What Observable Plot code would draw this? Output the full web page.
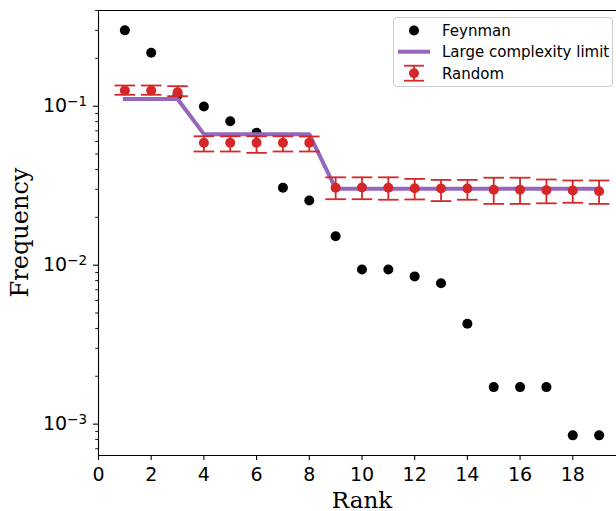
<!DOCTYPE html>
<html><head><meta charset="utf-8">
<script src="https://cdn.jsdelivr.net/npm/d3@7"></script>
<script src="https://cdn.jsdelivr.net/npm/@observablehq/plot@0.6"></script>
<style>html,body{margin:0;padding:0;background:#fff;overflow:hidden}</style>
</head><body><div id="chart"></div>
<script>
const ranks = [1,2,3,4,5,6,7,8,9,10,11,12,13,14,15,16,17,18,19];
const feynman = [0.300,0.217,0.117,0.0995,0.0805,0.068,0.0307,0.0255,0.0152,0.0094,0.0094,0.0085,0.0077,0.00428,0.00171,0.00171,0.00171,0.00085,0.00085];
const limitValues = [0.1111,0.1111,0.1111,0.0667,0.0667,0.0667,0.0667,0.0667,0.0303,0.0303,0.0303,0.0303,0.0303,0.0303,0.0303,0.0303,0.0303,0.0303,0.0303];
const randomMean = [0.1256,0.1256,0.1225,0.0589,0.0589,0.0589,0.0589,0.0589,0.0307,0.0308,0.0307,0.0305,0.0304,0.0304,0.0298,0.0298,0.0296,0.0295,0.0292];
const randomHigh = [0.135,0.135,0.1336,0.0647,0.0647,0.0647,0.0647,0.0645,0.0357,0.0357,0.0357,0.0349,0.0344,0.0344,0.0355,0.0355,0.0346,0.0341,0.0341];
const randomLow = [0.118,0.118,0.1156,0.0519,0.0519,0.0509,0.0519,0.0519,0.0260,0.0260,0.0258,0.0259,0.0253,0.0258,0.0243,0.0243,0.0245,0.0247,0.0243];
const xTicks = [0,2,4,6,8,10,12,14,16,18];
const yMajor = [0.001,0.01,0.1];
const yMinor = [0.0007,0.0008,0.0009,0.002,0.003,0.004,0.005,0.006,0.007,0.008,0.009,0.02,0.03,0.04,0.05,0.06,0.07,0.08,0.09,0.2,0.3,0.4];
const legendLabels = ["Feynman","Large complexity limit","Random"];

const RED = "#d62728", PURPLE = "#9467bd";
const data = ranks.map((r,i)=>({rank:r, feynman:feynman[i], limit:limitValues[i], mean:randomMean[i], lo:randomLow[i], hi:randomHigh[i]}));
const capSymbol = {draw(ctx,size){const w=Math.sqrt(size/Math.PI); ctx.moveTo(-w,0); ctx.lineTo(w,0);}};
const yLo = 0.000635, yHi = 0.40;

const plot = Plot.plot({
  width:616, height:511, marginTop:10, marginLeft:98, marginRight:0, marginBottom:56,
  style:{fontFamily:"'DejaVu Sans', sans-serif", fontSize:"19px", color:"#000", background:"#fff", overflow:"visible"},
  x:{domain:[0,19.66]},
  y:{type:"log", domain:[yLo,yHi]},
  marks:[
    Plot.axisX({ticks:xTicks, tickSize:5, tickPadding:7, label:null, tickFormat:d=>String(d), strokeWidth:1.1}),
    Plot.axisY({ticks:yMajor, tickSize:5, tickPadding:6.5, label:null, tickFormat:d=>"10^"+Math.round(Math.log10(d)), strokeWidth:1.1}),
    Plot.axisY({ticks:yMinor, tickSize:2.8, label:null, tickFormat:()=>"", strokeWidth:0.9}),
    Plot.ruleX([0], {stroke:"#000", strokeWidth:1.1}),
    Plot.ruleY([yLo], {stroke:"#000", strokeWidth:1.1}),
    Plot.ruleY([yHi], {stroke:"#000", strokeWidth:1.1}),
    Plot.dot(data, {x:"rank", y:"feynman", r:5, fill:"#000", stroke:null}),
    Plot.line(data, {x:"rank", y:"limit", stroke:PURPLE, strokeWidth:4, strokeLinecap:"square", strokeLinejoin:"miter"}),
    Plot.ruleX(data, {x:"rank", y1:"lo", y2:"hi", stroke:RED, strokeWidth:1.8}),
    Plot.dot(data, {x:"rank", y:"lo", symbol:capSymbol, r:10.3, stroke:RED, strokeWidth:1.8, fill:null}),
    Plot.dot(data, {x:"rank", y:"hi", symbol:capSymbol, r:10.3, stroke:RED, strokeWidth:1.8, fill:null}),
    Plot.dot(data, {x:"rank", y:"mean", r:5, fill:RED, stroke:null}),
    Plot.text(["Rank"], {x:10, frameAnchor:"bottom", lineAnchor:"top", dy:35.7, fontFamily:"'DejaVu Serif', serif", fontSize:23, fill:"#000"})
  ]
});
document.getElementById("chart").appendChild(plot);
const svg = d3.select(plot);

// superscript tick labels
svg.selectAll("text").each(function(){
  const t = this.textContent;
  const m = /^10\^(-?\d+)$/.exec(t);
  if (m) {
    const el = d3.select(this);
    el.text(null);
    el.append("tspan").text("10");
    el.append("tspan").attr("dy","-0.45em").attr("font-size","13.5px").text(m[1].replace("-","\u2212"));
  }
});

// y label
svg.append("text").attr("transform","translate(28,232.5) rotate(-90)")
  .attr("text-anchor","middle").attr("font-family","'DejaVu Serif', serif").attr("font-size",24).attr("fill","#000")
  .text("Frequency");

// legend
const lg = svg.append("g").attr("font-family","'DejaVu Sans', sans-serif").attr("font-size",15).attr("text-anchor","start");
lg.append("rect").attr("x",393.5).attr("y",17.5).attr("width",219).attr("height",69).attr("rx",3)
  .attr("fill","#fff").attr("fill-opacity",0.8).attr("stroke","#ccc").attr("stroke-width",1);
lg.append("circle").attr("cx",414).attr("cy",30.5).attr("r",5).attr("fill","#000");
lg.append("line").attr("x1",398).attr("x2",430).attr("y1",51.7).attr("y2",51.7).attr("stroke",PURPLE).attr("stroke-width",4);
lg.append("line").attr("x1",414).attr("x2",414).attr("y1",65.7).attr("y2",80.7).attr("stroke",RED).attr("stroke-width",1.8);
lg.append("line").attr("x1",404).attr("x2",424).attr("y1",65.7).attr("y2",65.7).attr("stroke",RED).attr("stroke-width",1.8);
lg.append("line").attr("x1",404).attr("x2",424).attr("y1",80.7).attr("y2",80.7).attr("stroke",RED).attr("stroke-width",1.8);
lg.append("circle").attr("cx",414).attr("cy",73.2).attr("r",5).attr("fill",RED);
[30.5,51.7,73.2].forEach((y,i)=>{
  lg.append("text").attr("x",442).attr("y",y+5.5).attr("text-anchor","start").attr("fill","#000").text(legendLabels[i]);
});
</script>
</body></html>
